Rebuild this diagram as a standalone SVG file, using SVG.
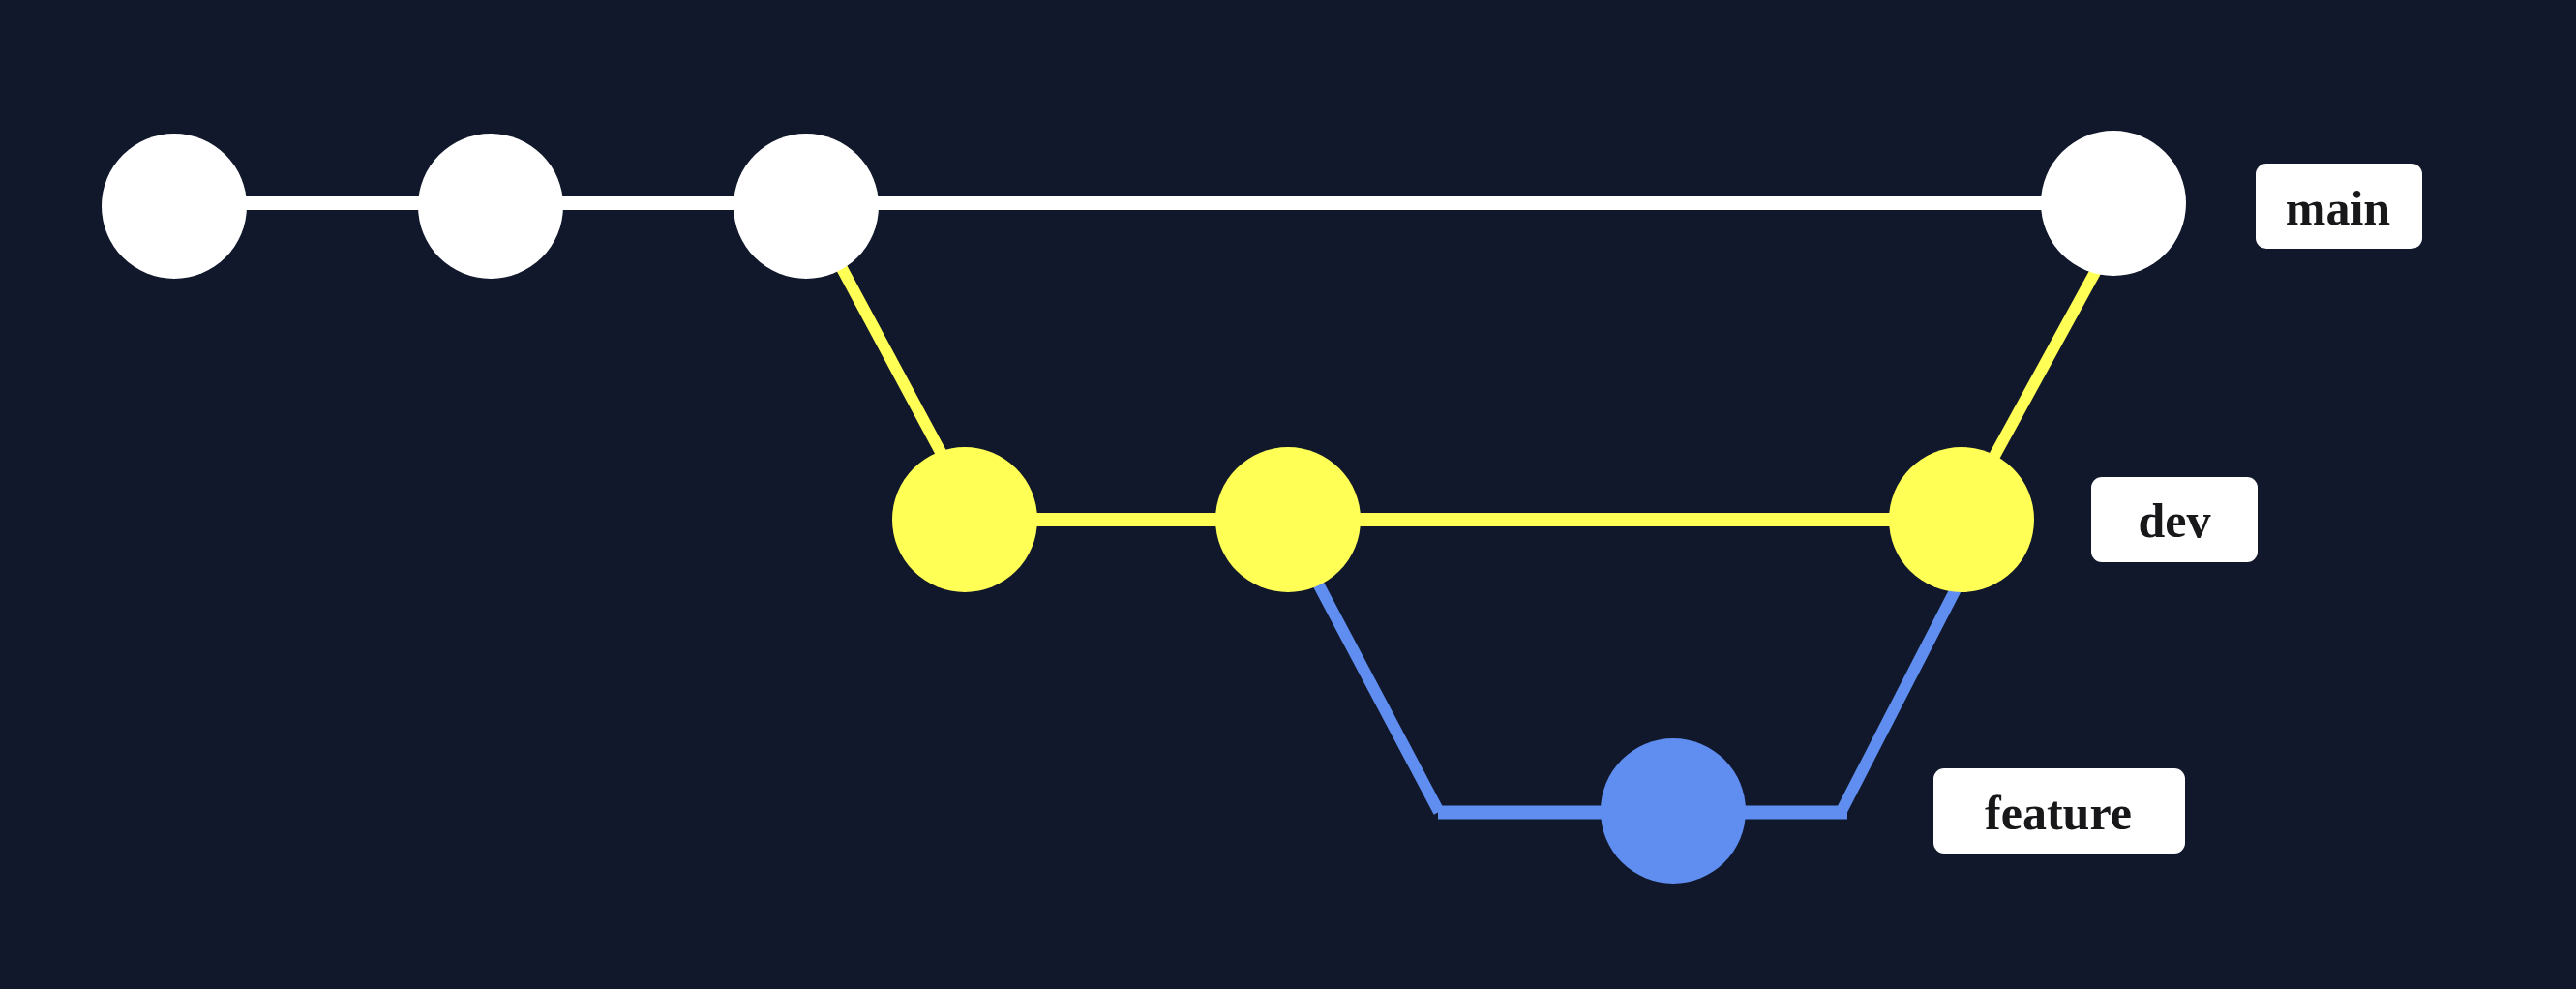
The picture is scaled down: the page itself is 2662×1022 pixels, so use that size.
<svg xmlns="http://www.w3.org/2000/svg" width="2662" height="1022" viewBox="0 0 2662 1022">
<style>
.main{fill:#ffffff}
.dev{fill:#ffff55}
.feat{fill:#5f8df0}
.lw{stroke:#ffffff;stroke-width:14;fill:none}
.ly{stroke:#ffff55;fill:none}
.lb{stroke:#5f8df0;fill:none}
.tag rect{fill:#ffffff}
.tag text{font-family:"Liberation Serif","Times New Roman",serif;font-weight:bold;font-size:50px;fill:#18181b;text-anchor:middle}
</style>
<rect x="0" y="0" width="2662" height="1022" fill="#11182b"/>
<g id="connectors">
<line class="lw" x1="180" y1="210" x2="2184" y2="210"/>
<line class="ly" stroke-width="14" x1="997" y1="537" x2="2027" y2="537"/>
<line class="ly" stroke-width="12" x1="835.5" y1="213" x2="1009.5" y2="537"/>
<line class="ly" stroke-width="12" x1="2025" y1="537" x2="2204" y2="210"/>
<line class="lb" stroke-width="12" x1="1327" y1="537" x2="1487" y2="839"/>
<line class="lb" stroke-width="14" x1="1486" y1="839.5" x2="1909" y2="839.5"/>
<line class="lb" stroke-width="12" x1="1902.5" y1="839" x2="2058" y2="537"/>
</g>
<g id="main-1"><circle class="main" cx="180" cy="213" r="75"/></g>
<g id="main-2"><circle class="main" cx="507" cy="213" r="75"/></g>
<g id="main-3"><circle class="main" cx="833" cy="213" r="75"/></g>
<g id="main-4"><circle class="main" cx="2184" cy="210" r="75"/></g>
<g id="dev-1"><circle class="dev" cx="997" cy="537" r="75"/></g>
<g id="dev-2"><circle class="dev" cx="1331" cy="537" r="75"/></g>
<g id="dev-3"><circle class="dev" cx="2027" cy="537" r="75"/></g>
<g id="feature-1"><circle class="feat" cx="1729" cy="838" r="75"/></g>
<g id="label-main" class="tag"><rect x="2331" y="169" width="172" height="88" rx="11"/><text x="2416" y="232">main</text></g>
<g id="label-dev" class="tag"><rect x="2161" y="493" width="172" height="88" rx="11"/><text x="2247" y="555">dev</text></g>
<g id="label-feature" class="tag"><rect x="1998" y="794" width="260" height="88" rx="11"/><text x="2127" y="857">feature</text></g>
</svg>
